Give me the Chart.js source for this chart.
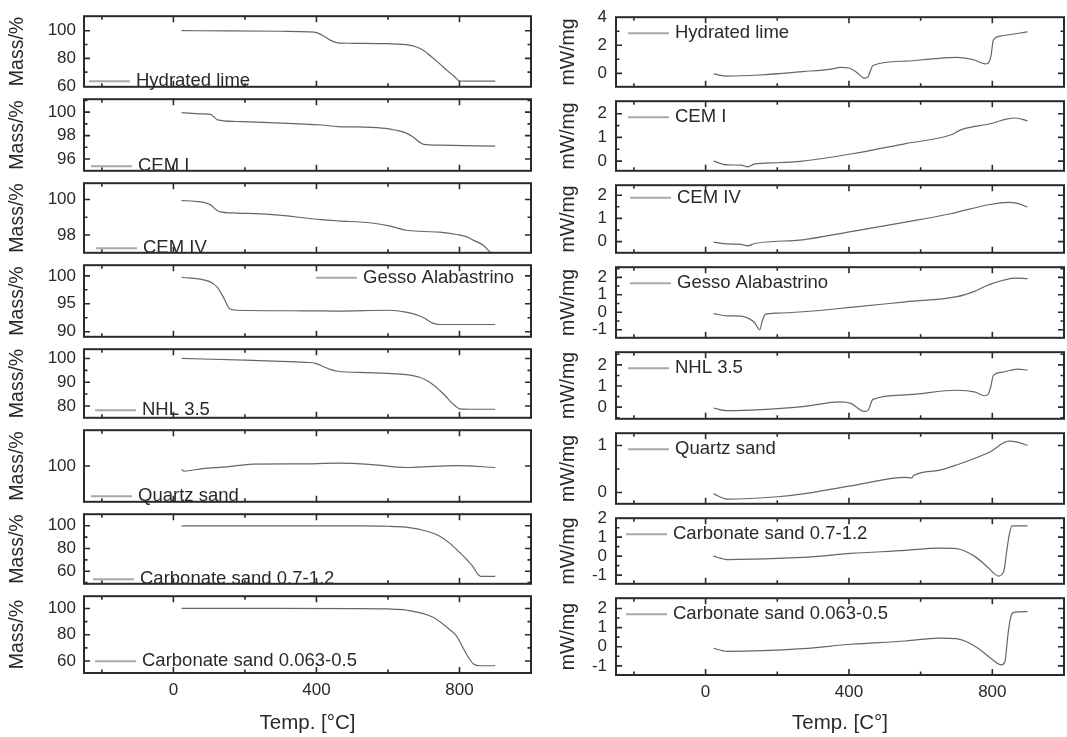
<!DOCTYPE html>
<html>
<head>
<meta charset="utf-8">
<title>TGA / DSC</title>
<script src="https://cdn.jsdelivr.net/npm/chart.js@4.4.0/dist/chart.umd.min.js"></script>
<style>
  html, body { margin: 0; padding: 0; background: #fff; }
  body { width: 1067px; height: 737px; position: relative; overflow: hidden; }
  canvas { position: absolute; }
</style>
</head>
<body>
<script>
// [temperature °C, value]

// TGA, Mass/%
const tgaHydratedLime = [[23,100],[150,99.9],[300,99.6],[380,99.2],[400,98.6],[420,96.2],[440,93],[460,91.2],[500,90.9],[600,90.6],[650,89.9],[680,88.2],[700,85.6],[720,81.5],[745,76],[765,71.3],[785,67],[800,63.6],[820,63.5],[900,63.5]];
const tgaCemI = [[23,99.95],[80,99.85],[104,99.8],[115,99.55],[123,99.34],[176,99.2],[270,99.1],[413,98.9],[460,98.77],[555,98.7],[603,98.57],[650,98.23],[669,97.9],[690,97.4],[700,97.25],[745,97.18],[900,97.1]];
const tgaCemIV = [[23,99.94],[62,99.9],[104,99.7],[118,99.45],[128,99.32],[176,99.24],[270,99.16],[413,98.87],[460,98.8],[555,98.68],[603,98.52],[650,98.27],[700,98.2],[745,98.16],[792,98.03],[821,97.9],[840,97.7],[868,97.4],[887,97.0],[900,96.7]];
const tgaGesso = [[23,99.75],[100,99.0],[123,97.95],[142,95.9],[157,94.1],[176,93.85],[365,93.75],[460,93.7],[603,93.85],[650,93.5],[697,92.6],[725,91.55],[745,91.3],[900,91.3]];
const tgaNhl = [[23,100],[200,99.3],[300,98.8],[380,98.3],[400,97.8],[420,96.5],[440,95.3],[460,94.6],[550,94],[650,93.2],[690,92],[710,90.6],[730,88.5],[745,86.5],[760,84.3],[775,81.8],[790,79.8],[800,78.8],[850,78.6],[900,78.6]];
const tgaQuartz = [[23,99.5],[30,99.3],[81,99.63],[150,99.9],[223,100.28],[350,100.3],[460,100.4],[555,100.2],[650,99.8],[700,99.9],[792,100.05],[900,99.8]];
const tgaCarbCoarse = [[23,100],[300,100],[500,99.9],[600,99.6],[650,98.75],[716,94.5],[745,90.8],[773,84.5],[802,76],[821,70.1],[840,63],[849,58.4],[859,55.5],[900,55.5]];
const tgaCarbFine = [[23,100],[300,100],[500,99.9],[600,99.6],[650,98.8],[726,93.3],[773,83.8],[792,79],[811,69.5],[826,62.4],[840,57.6],[859,56.4],[900,56.4]];

// DSC, mW/mg
const dscHydratedLime = [[22,-0.04],[60,-0.2],[150,-0.12],[271,0.12],[350,0.3],[376,0.42],[400,0.38],[420,0.1],[443,-0.34],[453,-0.25],[467,0.56],[558,0.87],[640,1.05],[702,1.13],[750,0.95],[779,0.67],[788,0.72],[796,1.2],[803,2.38],[827,2.68],[898,2.95]];
const dscCemI = [[22,0],[60,-0.16],[99,-0.17],[118,-0.24],[137,-0.12],[200,-0.07],[271,0],[405,0.3],[558,0.74],[683,1.1],[712,1.32],[800,1.6],[836,1.76],[865,1.82],[898,1.7]];
const dscCemIV = [[22,-0.02],[60,-0.1],[99,-0.12],[118,-0.18],[137,-0.08],[271,0.08],[405,0.43],[558,0.84],[683,1.2],[793,1.6],[846,1.69],[870,1.65],[898,1.49]];
const dscGesso = [[22,-0.08],[60,-0.2],[99,-0.22],[120,-0.35],[137,-0.6],[151,-1.0],[158,-0.5],[166,-0.13],[200,-0.05],[271,0.03],[405,0.28],[558,0.6],[702,0.9],[750,1.2],[793,1.6],[865,1.96],[898,1.93]];
const dscNhl = [[22,-0.04],[60,-0.16],[271,0.03],[376,0.25],[405,0.18],[443,-0.2],[453,-0.15],[467,0.37],[558,0.58],[702,0.8],[750,0.72],[779,0.54],[788,0.6],[796,1.0],[803,1.5],[827,1.65],[870,1.8],[898,1.75]];
const dscQuartz = [[22,-0.03],[60,-0.14],[200,-0.09],[271,-0.03],[405,0.14],[558,0.32],[575,0.31],[580,0.36],[650,0.47],[702,0.59],[793,0.86],[846,1.09],[870,1.07],[898,1.0]];
const dscCarbCoarse = [[22,0],[60,-0.18],[271,-0.07],[405,0.14],[558,0.3],[650,0.42],[700,0.4],[750,0.0],[788,-0.6],[807,-0.95],[817,-1.05],[832,-0.8],[841,0.38],[848,1.2],[855,1.6],[898,1.6]];
const dscCarbFine = [[22,-0.08],[60,-0.24],[271,-0.1],[405,0.13],[558,0.3],[650,0.45],[700,0.42],[727,0.27],[765,-0.15],[802,-0.7],[825,-0.95],[835,-0.8],[844,0.7],[852,1.6],[860,1.8],[898,1.84]];

const materials = ['Hydrated lime', 'CEM I', 'CEM IV', 'Gesso Alabastrino', 'NHL 3.5', 'Quartz sand', 'Carbonate sand 0.7-1.2', 'Carbonate sand 0.063-0.5'];
const tgaSeries = [tgaHydratedLime, tgaCemI, tgaCemIV, tgaGesso, tgaNhl, tgaQuartz, tgaCarbCoarse, tgaCarbFine];
const dscSeries = [dscHydratedLime, dscCemI, dscCemIV, dscGesso, dscNhl, dscQuartz, dscCarbCoarse, dscCarbFine];

// tick labels
const xTicks = [0, 400, 800];
const tgaTicks = [[60,80,100],[96,98,100],[98,100],[90,95,100],[80,90,100],[100],[60,80,100],[60,80,100]];
const dscTicks = [[0,2,4],[0,1,2],[0,1,2],[-1,0,1,2],[0,1,2],[0,1],[-1,0,1,2],[-1,0,1,2]];

// layout of the two columns
const columns = [
  {
    series: tgaSeries, ticks: tgaTicks,
    left: 0, width: 536, axisW: 84, padR: 5, titlePad: 6, tickPad: 8,
    yTitle: 'Mass/%', xTitle: 'Temp. [°C]',
    edges: [10, 93, 177, 259, 343, 424, 508, 590, 673],
    ranges: [[59.4,110.5],[95,101.1],[97,100.92],[89.1,101.9],[75,103.9],[95,105.02],[48.9,110.2],[50.9,109.3]],
    minor: [10, 1, 1, 2.5, 5, 5, 10, 10],
    // [line start from plot left, centre from panel top]
    legend: [[5,65],[7,67],[12,65],[232,12.5],[11,61],[7,66],[9,65],[11,65]]
  },
  {
    series: dscSeries, ticks: dscTicks,
    left: 536, width: 531, axisW: 80, padR: 3, titlePad: 21, tickPad: 9,
    yTitle: 'mW/mg', xTitle: 'Temp. [C°]',
    edges: [10, 94, 178, 260, 345, 426, 511, 591, 675],
    ranges: [[-0.96,4],[-0.41,2.53],[-0.48,2.43],[-1.46,2.58],[-0.55,2.6],[-0.24,1.26],[-1.46,2.0],[-1.48,2.54]],
    minor: [1, 0.5, 0.5, 0.5, 0.5, 0.5, 0.5, 0.5],
    legend: [[12,16],[12,16],[14,12.5],[14,16],[12,16],[12,16],[10,16],[10,16]]
  }
];

const PAD = 12;

const framePlugin = {
  id: 'frame',
  afterDatasetsDraw(chart, args, opts) {
    const {ctx, chartArea: a, scales: {x, y}} = chart;
    ctx.save();
    ctx.strokeStyle = '#2a2a2a';
    ctx.lineWidth = 1.6;
    ctx.beginPath();
    for (let v = -200; v <= 800; v += 200) {
      const px = x.getPixelForValue(v);
      const len = v % 400 === 0 ? 6 : 3.5;
      ctx.moveTo(px, a.bottom); ctx.lineTo(px, a.bottom - len);
      ctx.moveTo(px, a.top); ctx.lineTo(px, a.top + len);
    }
    const start = Math.ceil(y.min / opts.minor) * opts.minor;
    for (let v = start; v <= y.max + 1e-9; v += opts.minor) {
      const py = y.getPixelForValue(v);
      if (py <= a.top + 1 || py >= a.bottom - 1) continue;
      const major = opts.labels.some(m => Math.abs(m - v) < 1e-6);
      const len = major ? 6 : 3.5;
      ctx.moveTo(a.left, py); ctx.lineTo(a.left + len, py);
      ctx.moveTo(a.right, py); ctx.lineTo(a.right - len, py);
    }
    ctx.stroke();
    ctx.lineWidth = 2;
    ctx.strokeRect(a.left, a.top, a.right - a.left, a.bottom - a.top);

    // legend
    const ly = a.top + opts.legendY;
    const lx = a.left + opts.legendX;
    ctx.strokeStyle = '#a8a8a8';
    ctx.lineWidth = 2;
    ctx.beginPath();
    ctx.moveTo(lx, ly); ctx.lineTo(lx + 41, ly);
    ctx.stroke();
    ctx.fillStyle = '#2a2a2a';
    ctx.font = '18.5px "Liberation Sans", Arial, sans-serif';
    ctx.textBaseline = 'middle';
    ctx.textAlign = 'left';
    ctx.fillText(chart.data.datasets[0].label, lx + 47, ly);
    ctx.restore();
  }
};

Chart.defaults.font.family = '"Liberation Sans", Arial, sans-serif';
Chart.defaults.color = '#2a2a2a';

columns.forEach(col => {
  for (let i = 0; i < 8; i++) {
    const bottom = i === 7;
    const top = col.edges[i] - PAD;
    const h = bottom ? 737 - top : col.edges[i + 1] - col.edges[i] + 2 * PAD;
    const canvas = document.createElement('canvas');
    canvas.width = col.width;
    canvas.height = h;
    canvas.style.left = col.left + 'px';
    canvas.style.top = top + 'px';
    canvas.style.width = col.width + 'px';
    canvas.style.height = h + 'px';
    document.body.appendChild(canvas);

    const labels = col.ticks[i];
    const [ymin, ymax] = col.ranges[i];
    new Chart(canvas, {
      type: 'line',
      data: {
        datasets: [{
          label: materials[i],
          data: col.series[i].map(([t, v]) => ({x: t, y: v})),
          borderColor: '#666666',
          borderWidth: 1.2,
          pointRadius: 0,
          cubicInterpolationMode: 'monotone',
          fill: false
        }]
      },
      options: {
        responsive: false,
        animation: false,
        events: [],
        layout: { padding: { top: PAD, bottom: bottom ? 0 : PAD, left: 0, right: col.padR } },
        plugins: {
          legend: { display: false },
          tooltip: { enabled: false },
          frame: {
            labels: labels,
            minor: col.minor[i],
            legendX: col.legend[i][0],
            legendY: col.legend[i][1]
          }
        },
        scales: {
          x: {
            type: 'linear',
            min: -250,
            max: 1000,
            display: bottom,
            grid: { display: false, drawTicks: false },
            border: { display: false },
            afterBuildTicks: s => { s.ticks = xTicks.map(v => ({value: v})); },
            afterFit: s => { if (bottom) s.height = 737 - col.edges[8]; },
            ticks: { padding: 7, font: { size: 17 }, maxRotation: 0, autoSkip: false, callback: v => String(v) },
            title: { display: true, text: col.xTitle, font: { size: 20.5 }, padding: { top: 0, bottom: 1 } }
          },
          y: {
            type: 'linear',
            min: ymin,
            max: ymax,
            grid: { display: false, drawTicks: false },
            border: { display: false },
            afterBuildTicks: s => { s.ticks = labels.map(v => ({value: v})); },
            afterFit: s => { s.width = col.axisW; },
            ticks: { padding: col.tickPad, font: { size: 17 }, autoSkip: false, callback: v => String(v) },
            title: { display: true, text: col.yTitle, font: { size: 19.5 }, padding: { top: col.titlePad, bottom: 0 } }
          }
        }
      },
      plugins: [framePlugin]
    });
  }
});
</script>
</body>
</html>
